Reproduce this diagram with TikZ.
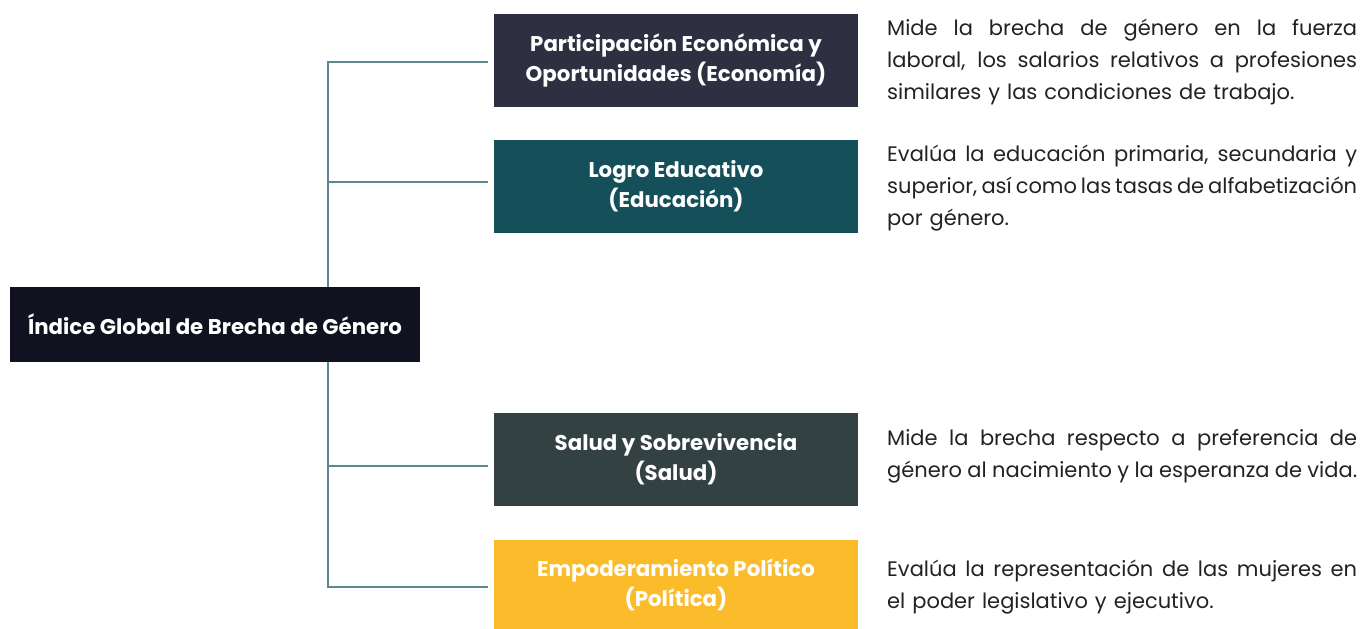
\documentclass[tikz,border=0pt]{standalone}
\usepackage{fontspec}
\setmainfont{Poppins}
\usetikzlibrary{backgrounds}
\definecolor{cEco}{HTML}{2F2F42}
\definecolor{cEdu}{HTML}{154F5A}
\definecolor{cSal}{HTML}{344142}
\definecolor{cPol}{HTML}{FBBC2C}
\definecolor{cRoot}{HTML}{10131F}
\definecolor{cLine}{HTML}{5E8890}
\definecolor{cTxt}{HTML}{222222}
\newcommand{\jl}[1]{\leavevmode{\spaceskip=0.28em plus 1fil minus 0.2em\hbox to 470pt{#1}}}
\tikzset{
  catbox/.style={minimum width=364pt, minimum height=93pt, inner sep=0pt, text=white, align=center,
    font={\fontsize{21.3}{30}\selectfont\bfseries}},
  rootbox/.style={fill=cRoot, minimum width=410pt, minimum height=75pt, inner sep=0pt, text=white,
    font={\fontsize{21.3}{30}\selectfont\bfseries}},
  desc/.style={anchor=west, inner sep=0pt, text width=470pt, align=left, text=cTxt,
    font={\fontsize{21}{32}\selectfont}},
  conn/.style={draw=cLine, line width=2pt, shorten <=6pt},
}
\begin{document}
\begin{tikzpicture}[x=1pt,y=-1pt]
\useasboundingbox (0,0) rectangle (1360,629);
\node[rootbox] (root) at (215,324.5) {Índice Global de Brecha de Género};
\node[catbox, fill=cEco] (eco) at (676,60.5) {Participación Económica y\\Oportunidades (Economía)};
\node[catbox, fill=cEdu] (edu) at (676,186.5) {Logro Educativo\\(Educación)};
\node[catbox, fill=cSal] (sal) at (676,459.5) {Salud y Sobrevivencia\\(Salud)};
\node[catbox, fill=cPol, minimum height=89pt] (pol) at (676,584.5) {Empoderamiento Político\\(Política)};
\coordinate (tk) at (328,324.5);
\begin{scope}[on background layer]
\draw[conn] ([yshift=-1.5pt]eco.west) -| (tk);
\draw[conn] ([yshift=4.5pt]edu.west) -| (tk);
\draw[conn] ([yshift=-6.5pt]sal.west) -| (tk);
\draw[conn] ([yshift=-2.5pt]pol.west) -| (tk);
\end{scope}
\node[desc] (deco) at (887,62) {\jl{Mide la brecha de género en la fuerza}\\\jl{laboral, los salarios relativos a profesiones}\\similares y las condiciones de trabajo.};
\node[desc] (dedu) at (887,188) {\jl{Evalúa la educación primaria, secundaria y}\\\jl{superior, así como las tasas de alfabetización}\\por género.};
\node[desc] (dsal) at (887,456) {\jl{Mide la brecha respecto a preferencia de}\\\jl{género al nacimiento y la esperanza de vida.}};
\node[desc] (dpol) at (887,587) {\jl{Evalúa la representación de las mujeres en}\\el poder legislativo y ejecutivo.};
\end{tikzpicture}
\end{document}
